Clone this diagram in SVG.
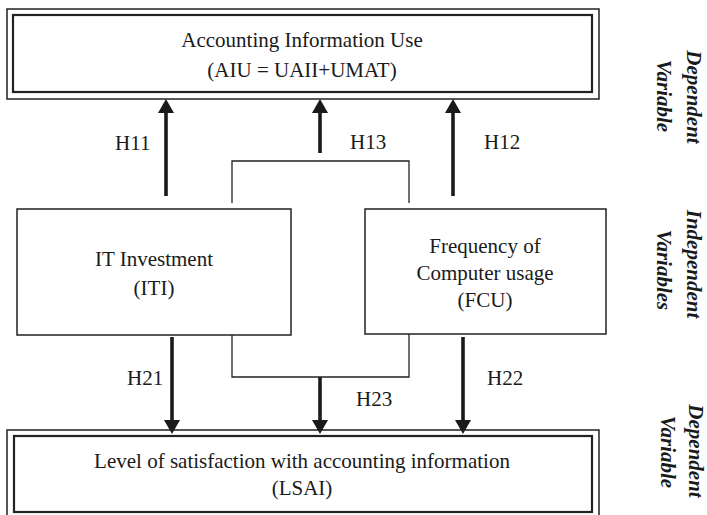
<svg xmlns="http://www.w3.org/2000/svg" width="707" height="515" viewBox="0 0 707 515">
  <style>
    text { font-family: "Liberation Serif", Tinos, "Times New Roman", Times, "Nimbus Roman", serif; font-size: 21px; fill: #1a1a1a; }
    .mid { text-anchor: middle; }
    .side { font-weight: bold; font-style: italic; text-anchor: middle; }
    .outer { fill: none; stroke: #222; stroke-width: 1.5; }
    .inner { fill: none; stroke: #222; stroke-width: 2.2; }
    .box { fill: #fff; stroke: #222; stroke-width: 1.5; }
    .bracket { fill: none; stroke: #222; stroke-width: 1.3; }
    .arrow { fill: none; stroke: #1a1a1a; stroke-width: 3.6; marker-end: url(#head); }
  </style>
  <defs>
    <marker id="head" markerUnits="userSpaceOnUse" viewBox="0 0 14 16" markerWidth="14" markerHeight="16" refX="0" refY="8" orient="auto">
      <path d="M0,0 L14,8 L0,16 Z" fill="#1a1a1a"/>
    </marker>
  </defs>
  <rect width="707" height="515" fill="#fff"/>

  <!-- Dependent variable: accounting information use -->
  <g id="aiu">
    <rect class="outer" x="7" y="9" width="592" height="90"/>
    <rect class="inner" x="13" y="15" width="579" height="77"/>
    <text class="mid" x="302" y="47">Accounting Information Use</text>
    <text class="mid" x="302" y="77">(AIU = UAII+UMAT)</text>
  </g>

  <!-- Independent variables -->
  <g id="iti">
    <rect class="box" x="17" y="209" width="274" height="126"/>
    <text class="mid" x="154" y="266">IT Investment</text>
    <text class="mid" x="154" y="295">(ITI)</text>
  </g>
  <g id="fcu">
    <rect class="box" x="365" y="209" width="241" height="125"/>
    <text class="mid" x="485" y="253">Frequency of</text>
    <text class="mid" x="485" y="280">Computer usage</text>
    <text class="mid" x="485" y="307">(FCU)</text>
  </g>

  <!-- Dependent variable: satisfaction -->
  <g id="lsai">
    <rect class="outer" x="7" y="430" width="592" height="90"/>
    <rect class="inner" x="14" y="436" width="578" height="76"/>
    <text class="mid" x="302" y="468">Level of satisfaction with accounting information</text>
    <text class="mid" x="302" y="495">(LSAI)</text>
  </g>

  <!-- Hypothesis connectors -->
  <g id="connectors">
    <path class="bracket" d="M232,203 V161 H409 V203"/>
    <path class="bracket" d="M232,335 V377 H409 V334"/>
    <line class="arrow" x1="166" y1="196" x2="166" y2="113"/>
    <line class="arrow" x1="320" y1="153" x2="320" y2="113"/>
    <line class="arrow" x1="453" y1="196" x2="453" y2="113"/>
    <line class="arrow" x1="172" y1="337" x2="172" y2="420"/>
    <line class="arrow" x1="320" y1="377" x2="320" y2="420"/>
    <line class="arrow" x1="463" y1="337" x2="463" y2="420"/>
    <text x="115" y="150">H11</text>
    <text x="350" y="149">H13</text>
    <text x="484" y="149">H12</text>
    <text x="127" y="385">H21</text>
    <text x="487" y="385">H22</text>
    <text x="356" y="406">H23</text>
  </g>

  <!-- Side labels -->
  <g id="side-labels">
    <text class="side" x="687" y="97" transform="rotate(90 687 97)">Dependent</text>
    <text class="side" x="657" y="96" transform="rotate(90 657 96)">Variable</text>
    <text class="side" x="687" y="264" transform="rotate(90 687 264)">Independent</text>
    <text class="side" x="657" y="270" transform="rotate(90 657 270)">Variables</text>
    <text class="side" x="689" y="451" transform="rotate(90 689 451)">Dependent</text>
    <text class="side" x="661" y="452" transform="rotate(90 661 452)">Variable</text>
  </g>
</svg>
